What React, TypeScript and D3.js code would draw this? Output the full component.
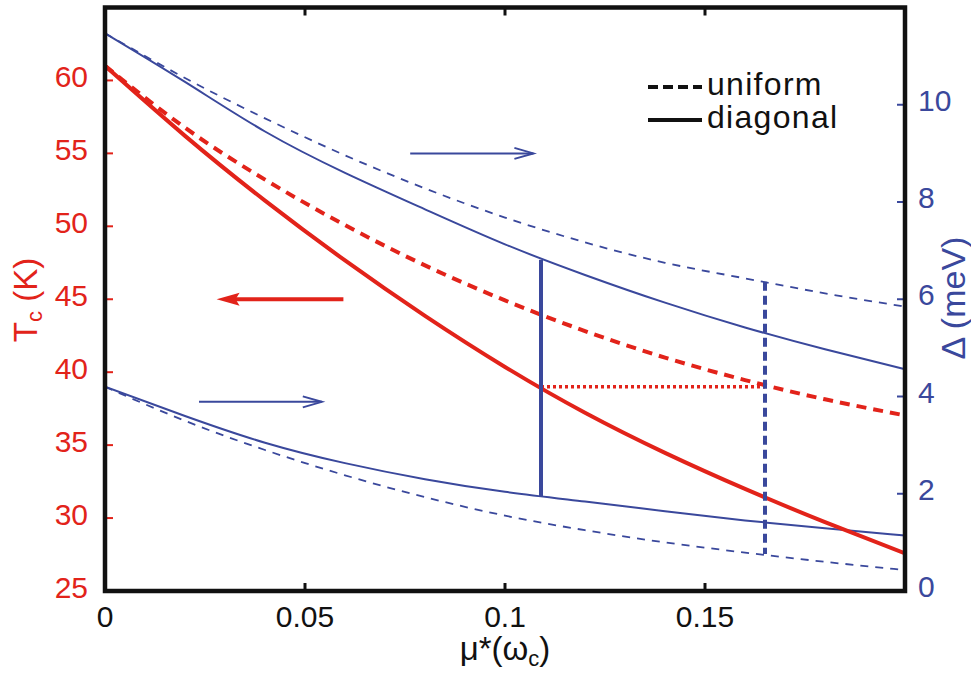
import * as d3 from 'd3';

// shared x grid for every curve (mu* at omega_c)
const muGrid = [0, 0.02, 0.04, 0.06, 0.08, 0.1, 0.12, 0.14, 0.16, 0.18, 0.2];

// Tc (K), left axis
const tcDiagonal = [61.0, 56.2, 51.76, 47.66, 43.86, 40.36, 37.22, 34.47, 32.0, 29.72, 27.58];
const tcUniform = [61.0, 56.76, 53.2, 50.08, 47.32, 44.92, 42.82, 41.0, 39.46, 38.14, 37.04];

// gap (meV), right axis
const gapDiagonalHigh = [11.47, 10.47, 9.45, 8.6, 7.85, 7.13, 6.5, 5.93, 5.42, 4.97, 4.56];
const gapUniformHigh = [11.47, 10.55, 9.72, 8.96, 8.28, 7.68, 7.17, 6.75, 6.43, 6.12, 5.85];
const gapDiagonalLow = [4.2, 3.6, 3.05, 2.63, 2.3, 2.04, 1.84, 1.64, 1.45, 1.29, 1.14];
const gapUniformLow = [4.2, 3.5, 2.9, 2.38, 1.93, 1.55, 1.25, 1.0, 0.79, 0.6, 0.43];

// markers: same Tc reached at two mu* values
const markerMu = [0.109, 0.165];
const markerGapTop = [6.81, 6.36];
const markerGapBottom = [1.94, 0.76];
const markerTc = 39;

// ticks
const tcTicks = [25, 30, 35, 40, 45, 50, 55, 60];
const gapTicks = [0, 2, 4, 6, 8, 10];
const muTicks = [0, 0.05, 0.1, 0.15];
const muTickLabels = ['0', '0.05', '0.1', '0.15'];

// annotation arrows (data units)
const blueArrows = [
  { from: 0.0763, to: 0.1071, gap: 9.0 },
  { from: 0.0235, to: 0.0542, gap: 3.89 },
];
const redArrow = { from: 0.0596, to: 0.0279, tc: 45 };

const RED = '#e2231a';
const BLUE = '#3a489c';
const FONT = '"Liberation Sans", Arial, Helvetica, sans-serif';

export default function App() {
  const width = 971;
  const height = 673;
  const m = { left: 105, right: 905, top: 7.5, bottom: 591 };

  const x = d3.scaleLinear().domain([0, 0.2]).range([m.left, m.right]);
  const yT = d3.scaleLinear().domain([25, 65]).range([m.bottom, m.top]);
  const yG = d3.scaleLinear().domain([0, 12]).range([m.bottom, m.top]);

  const lineT = d3.line<number>().x((d, i) => x(muGrid[i])).y(d => yT(d)).curve(d3.curveNatural);
  const lineG = d3.line<number>().x((d, i) => x(muGrid[i])).y(d => yG(d)).curve(d3.curveNatural);

  return (
    <svg width={width} height={height} style={{ position: 'absolute', left: 0, top: 0, background: '#fff' }} fontFamily={FONT}>
      <defs>
        <clipPath id="plot">
          <rect x={m.left} y={m.top} width={m.right - m.left} height={m.bottom - m.top} />
        </clipPath>
      </defs>

      <g clipPath="url(#plot)" fill="none">
        {/* gap curves */}
        <path d={lineG(gapUniformHigh) || ''} stroke={BLUE} strokeWidth={1.8} strokeDasharray="8,7" />
        <path d={lineG(gapDiagonalHigh) || ''} stroke={BLUE} strokeWidth={2} />
        <path d={lineG(gapUniformLow) || ''} stroke={BLUE} strokeWidth={1.8} strokeDasharray="8,7" />
        <path d={lineG(gapDiagonalLow) || ''} stroke={BLUE} strokeWidth={2} />

        {/* Tc curves */}
        <path d={lineT(tcUniform) || ''} stroke={RED} strokeWidth={4} strokeDasharray="10,7" />
        <path d={lineT(tcDiagonal) || ''} stroke={RED} strokeWidth={4} />

        {/* markers */}
        <line x1={x(markerMu[0])} x2={x(markerMu[1])} y1={yT(markerTc)} y2={yT(markerTc)}
          stroke={RED} strokeWidth={3.5} strokeDasharray="3,3" />
        <line x1={x(markerMu[0])} x2={x(markerMu[0])} y1={yG(markerGapTop[0])} y2={yG(markerGapBottom[0])}
          stroke={BLUE} strokeWidth={4} />
        <line x1={x(markerMu[1])} x2={x(markerMu[1])} y1={yG(markerGapTop[1])} y2={yG(markerGapBottom[1])}
          stroke={BLUE} strokeWidth={4} strokeDasharray="9,5" />

        {/* arrows */}
        {blueArrows.map((a, i) => {
          const x0 = x(a.from), x1 = x(a.to), yy = yG(a.gap);
          return (
            <g key={i} stroke={BLUE} strokeWidth={2}>
              <line x1={x0} x2={x1} y1={yy} y2={yy} />
              <polyline points={`${x1 - 19},${yy - 5.5} ${x1},${yy} ${x1 - 19},${yy + 5.5}`} />
            </g>
          );
        })}
        {(() => {
          const x0 = x(redArrow.from), x1 = x(redArrow.to), yy = yT(redArrow.tc);
          return (
            <g>
              <line x1={x0} x2={x1 + 18} y1={yy} y2={yy} stroke={RED} strokeWidth={4} />
              <polygon points={`${x1},${yy} ${x1 + 23},${yy - 6.5} ${x1 + 19},${yy} ${x1 + 23},${yy + 6.5}`} fill={RED} />
            </g>
          );
        })()}
      </g>

      {/* ticks */}
      {tcTicks.map(t => (
        <line key={'lt' + t} x1={m.left} x2={m.left + 8} y1={yT(t)} y2={yT(t)} stroke={RED} strokeWidth={2} />
      ))}
      {gapTicks.map(t => (
        <line key={'rt' + t} x1={m.right - 8} x2={m.right} y1={yG(t)} y2={yG(t)} stroke={BLUE} strokeWidth={2} />
      ))}
      {muTicks.map(t => (
        <g key={'xt' + t} stroke="#111" strokeWidth={3}>
          <line x1={x(t)} x2={x(t)} y1={m.bottom} y2={m.bottom - 8} />
          <line x1={x(t)} x2={x(t)} y1={m.top} y2={m.top + 8} />
        </g>
      ))}

      {/* frame */}
      <rect x={m.left} y={m.top} width={m.right - m.left} height={m.bottom - m.top}
        fill="none" stroke="#111" strokeWidth={4.5} />

      {/* tick labels */}
      {tcTicks.map(t => (
        <text key={'ll' + t} x={88} y={yT(t) + 7} textAnchor="end" fontSize={30} fill={RED}>{t}</text>
      ))}
      {gapTicks.map(t => (
        <text key={'rl' + t} x={918} y={yG(t) + 6} textAnchor="start" fontSize={30} fill={BLUE}>{t}</text>
      ))}
      {muTicks.map((t, i) => (
        <text key={'xl' + t} x={x(t)} y={627} textAnchor="middle" fontSize={30} fill="#111">{muTickLabels[i]}</text>
      ))}

      {/* axis titles */}
      <text x={505} y={660} textAnchor="middle" fontSize={33} fill="#111">
        μ*(ω<tspan fontSize={22} dy={6}>c</tspan><tspan dy={-6}>)</tspan>
      </text>
      <text transform="translate(37,300) rotate(-90)" textAnchor="middle" fontSize={33} fill={RED}>
        T<tspan fontSize={22} dy={5}>c</tspan><tspan dy={-5}> (K)</tspan>
      </text>
      <text transform="translate(965,298) rotate(-90)" textAnchor="middle" fontSize={34} fill={BLUE}>
        Δ (meV)
      </text>

      {/* legend */}
      <line x1={648} x2={702} y1={87} y2={87} stroke="#111" strokeWidth={4} strokeDasharray="10,5" />
      <text x={707} y={95} fontSize={32} letterSpacing={1.3} fill="#111">uniform</text>
      <line x1={648} x2={702} y1={120} y2={120} stroke="#111" strokeWidth={4} />
      <text x={707} y={128} fontSize={32} letterSpacing={1.3} fill="#111">diagonal</text>
    </svg>
  );
}
